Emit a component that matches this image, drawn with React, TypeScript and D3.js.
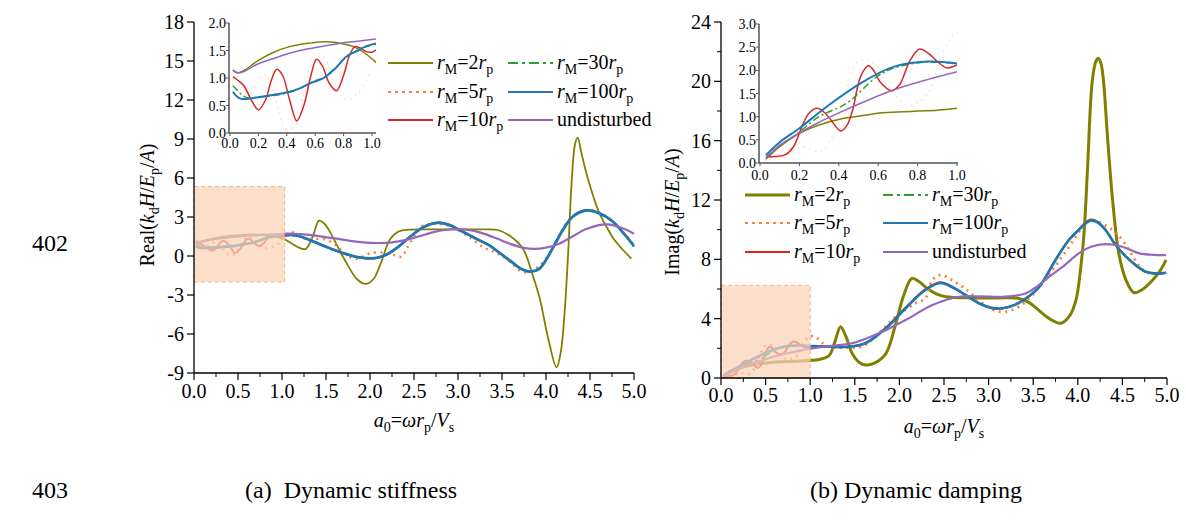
import React from 'react';
import * as d3 from 'd3';

type P = [number, number];
const FONT = '"Liberation Serif", "Times New Roman", serif';

// ---------- (a) Real part : dynamic stiffness ----------
const realR2: P[] = [[0.02,1.14],[0.05,1.09],[0.1,1.14],[0.2,1.32],[0.3,1.46],[0.42,1.57],[0.55,1.63],[0.68,1.66],[0.8,1.62],[0.87,1.57],[0.95,1.45],[1.03,1.28],[1.1,1.0],[1.2,0.62],[1.27,0.55],[1.35,1.5],[1.42,2.72],[1.48,2.5],[1.55,1.8],[1.65,0.5],[1.73,-0.5],[1.85,-1.77],[1.95,-2.15],[2.04,-1.77],[2.12,-0.6],[2.23,1.3],[2.33,1.9],[2.45,2.03],[2.7,2.05],[3.0,2.05],[3.3,2.05],[3.45,2.0],[3.6,1.5],[3.74,0.54],[3.85,-1.5],[3.93,-3.3],[4.03,-6.5],[4.12,-8.57],[4.17,-7.3],[4.21,-4.5],[4.25,0],[4.29,5.5],[4.33,8.6],[4.36,9.1],[4.4,8.0],[4.45,6.6],[4.5,5.4],[4.6,3.4],[4.7,2.1],[4.77,1.3],[4.87,0.5],[4.97,-0.2]];
const realR5: P[] = [[0.02,0.9],[0.08,0.6],[0.15,0.75],[0.24,1.07],[0.3,0.8],[0.39,0.08],[0.45,0.1],[0.52,0.7],[0.6,1.45],[0.67,1.35],[0.75,0.8],[0.82,0.6],[0.9,0.72],[0.98,1.07],[1.09,1.85],[1.16,1.7],[1.23,1.4],[1.35,1.3],[1.47,1.3],[1.55,1.1],[1.62,0.8],[1.7,0.3],[1.79,-0.15],[1.86,-0.22],[1.93,0.0],[2.0,0.2],[2.1,0.28],[2.2,0.2],[2.27,0.08],[2.36,-0.05],[2.42,0.6],[2.5,1.5],[2.57,2.25],[2.68,2.45],[2.78,2.48],[2.9,2.3],[3.0,2.0],[3.15,1.35],[3.29,0.65],[3.4,0.35],[3.5,0.0],[3.6,-0.5],[3.74,-1.24],[3.86,-1.05],[3.95,-0.6],[4.05,0.3],[4.15,1.6],[4.3,3.05],[4.47,3.55],[4.6,3.35],[4.75,2.7],[4.9,1.65],[5.0,0.8]];
const realR10: P[] = [[0.02,1.02],[0.06,0.95],[0.1,0.85],[0.15,0.6],[0.2,0.42],[0.25,0.6],[0.29,0.95],[0.33,1.16],[0.37,1.05],[0.42,0.6],[0.47,0.22],[0.52,0.5],[0.57,1.05],[0.61,1.34],[0.65,1.22],[0.7,0.9],[0.75,0.77],[0.8,1.05],[0.84,1.4],[0.88,1.57],[0.92,1.54],[0.96,1.48],[1.0,1.47],[1.05,1.55],[1.1,1.6],[1.2,1.5],[1.32,1.2],[1.47,0.78],[1.62,0.38],[1.78,0.03],[1.9,-0.15],[2.0,-0.2],[2.1,-0.12],[2.2,0.13],[2.3,0.58],[2.45,1.43],[2.6,2.2],[2.76,2.57],[2.9,2.42],[3.0,2.07],[3.2,1.37],[3.36,0.8],[3.5,0.1],[3.6,-0.42],[3.72,-1.02],[3.82,-1.22],[3.92,-1.0],[4.0,-0.3],[4.1,0.9],[4.2,2.1],[4.3,3.02],[4.45,3.52],[4.6,3.32],[4.75,2.7],[4.9,1.6],[5.0,0.75]];
const realR30: P[] = [[0.02,0.86],[0.05,0.78],[0.08,0.7],[0.12,0.64],[0.2,0.65],[0.3,0.68],[0.42,0.74],[0.5,0.82],[0.58,0.93],[0.66,1.01],[0.74,1.18],[0.82,1.38],[0.9,1.5],[0.96,1.57],[1.03,1.62],[1.1,1.61],[1.2,1.51],[1.32,1.21],[1.47,0.79],[1.62,0.39],[1.78,0.04],[1.9,-0.14],[2.0,-0.19],[2.1,-0.11],[2.2,0.14],[2.3,0.59],[2.45,1.44],[2.6,2.2],[2.76,2.56],[2.9,2.41],[3.0,2.06],[3.2,1.36],[3.36,0.8],[3.5,0.1],[3.6,-0.41],[3.72,-1.01],[3.82,-1.21],[3.92,-1.0],[4.0,-0.3],[4.1,0.9],[4.2,2.1],[4.3,3.01],[4.45,3.51],[4.6,3.31],[4.75,2.7],[4.9,1.6],[5.0,0.75]];
const realR100: P[] = [[0.02,0.75],[0.05,0.66],[0.08,0.62],[0.12,0.62],[0.2,0.65],[0.3,0.69],[0.42,0.75],[0.5,0.82],[0.58,0.92],[0.66,1.0],[0.74,1.17],[0.82,1.39],[0.9,1.5],[0.96,1.58],[1.03,1.63],[1.1,1.62],[1.2,1.52],[1.32,1.22],[1.47,0.8],[1.62,0.4],[1.78,0.05],[1.9,-0.13],[2.0,-0.18],[2.1,-0.1],[2.2,0.15],[2.3,0.6],[2.45,1.45],[2.6,2.2],[2.76,2.55],[2.9,2.4],[3.0,2.05],[3.2,1.35],[3.36,0.8],[3.5,0.1],[3.6,-0.4],[3.72,-1.0],[3.82,-1.2],[3.92,-1.0],[4.0,-0.3],[4.1,0.9],[4.2,2.1],[4.3,3.0],[4.45,3.5],[4.6,3.3],[4.75,2.7],[4.9,1.6],[5.0,0.75]];
const realUnd: P[] = [[0.02,1.15],[0.05,1.1],[0.08,1.1],[0.2,1.26],[0.3,1.35],[0.42,1.45],[0.55,1.53],[0.68,1.59],[0.8,1.64],[0.9,1.67],[1.03,1.71],[1.15,1.71],[1.25,1.67],[1.4,1.55],[1.6,1.35],[1.8,1.15],[1.95,1.03],[2.1,1.0],[2.25,1.05],[2.4,1.22],[2.55,1.5],[2.7,1.8],[2.85,2.0],[3.0,2.07],[3.15,1.97],[3.3,1.7],[3.45,1.32],[3.6,0.92],[3.75,0.62],[3.87,0.55],[4.0,0.65],[4.15,0.95],[4.3,1.5],[4.45,2.05],[4.6,2.38],[4.7,2.43],[4.8,2.3],[4.9,2.05],[5.0,1.7]];

// ---------- (b) Imag part : dynamic damping ----------
const imagR2: P[] = [[0.03,0.08],[0.1,0.35],[0.2,0.64],[0.3,0.82],[0.42,0.96],[0.5,1.01],[0.59,1.07],[0.7,1.1],[0.8,1.12],[0.9,1.14],[1.0,1.18],[1.1,1.25],[1.21,1.5],[1.28,2.5],[1.34,3.46],[1.4,2.8],[1.47,1.66],[1.55,1.05],[1.62,0.88],[1.72,1.0],[1.85,1.66],[1.96,3.69],[2.05,5.6],[2.14,6.72],[2.22,6.5],[2.31,6.05],[2.42,5.65],[2.52,5.48],[2.82,5.4],[3.1,5.4],[3.34,5.37],[3.45,5.1],[3.56,4.58],[3.68,4.0],[3.81,3.69],[3.91,4.2],[3.98,5.26],[4.03,7.3],[4.07,9.76],[4.11,14.25],[4.16,19.9],[4.2,21.3],[4.23,21.55],[4.26,21.2],[4.29,19.9],[4.33,16.5],[4.39,12.0],[4.46,8.4],[4.54,6.6],[4.63,5.75],[4.72,5.95],[4.84,6.61],[4.92,7.2],[4.99,7.96]];
const imagR5: P[] = [[0.02,0.05],[0.12,0.15],[0.22,0.35],[0.3,0.25],[0.35,0.43],[0.42,1.3],[0.5,2.2],[0.58,2.15],[0.66,1.6],[0.74,1.25],[0.8,1.3],[0.86,1.55],[0.92,2.3],[0.99,2.79],[1.05,2.8],[1.15,2.3],[1.21,2.1],[1.4,2.05],[1.58,2.11],[1.73,2.79],[1.96,4.13],[2.18,5.04],[2.29,5.37],[2.37,6.6],[2.46,6.95],[2.59,6.6],[2.74,6.0],[2.93,5.04],[3.12,4.47],[3.34,4.8],[3.6,6.38],[3.85,8.4],[4.09,10.43],[4.16,10.65],[4.39,9.98],[4.5,9.3],[4.76,7.17],[5.0,7.1]];
const imagR10: P[] = [[0.03,0.14],[0.08,0.14],[0.13,0.18],[0.17,0.35],[0.22,0.86],[0.25,1.08],[0.29,1.18],[0.33,1.08],[0.36,0.93],[0.41,0.69],[0.44,0.8],[0.47,1.14],[0.51,1.86],[0.55,2.1],[0.58,1.98],[0.61,1.75],[0.67,1.56],[0.71,1.7],[0.76,2.2],[0.81,2.46],[0.86,2.35],[0.9,2.19],[0.95,2.05],[1.0,2.12],[1.1,2.15],[1.2,2.1],[1.43,2.1],[1.62,2.36],[1.85,3.4],[2.07,4.75],[2.29,5.97],[2.46,6.45],[2.6,6.12],[2.74,5.6],[2.9,5.0],[3.02,4.72],[3.15,4.68],[3.3,4.95],[3.45,5.5],[3.57,6.16],[3.75,7.96],[3.9,9.32],[4.01,10.02],[4.14,10.68],[4.22,10.55],[4.31,10.0],[4.42,9.0],[4.54,8.18],[4.65,7.6],[4.76,7.15],[4.88,7.02],[4.99,7.08]];
const imagR30: P[] = [[0.03,0.12],[0.1,0.38],[0.17,0.57],[0.3,1.0],[0.44,1.29],[0.59,1.85],[0.68,2.05],[0.85,2.18],[1.0,2.14],[1.2,2.11],[1.43,2.1],[1.62,2.35],[1.85,3.37],[2.07,4.72],[2.29,5.95],[2.46,6.42],[2.6,6.1],[2.74,5.6],[2.9,5.01],[3.02,4.74],[3.15,4.69],[3.3,4.95],[3.45,5.5],[3.57,6.16],[3.75,7.96],[3.9,9.31],[4.01,10.0],[4.14,10.64],[4.22,10.52],[4.31,9.99],[4.42,9.0],[4.54,8.18],[4.65,7.6],[4.76,7.16],[4.88,7.04],[4.99,7.09]];
const imagR100: P[] = [[0.03,0.17],[0.1,0.45],[0.2,0.75],[0.34,1.22],[0.51,1.72],[0.68,2.08],[0.85,2.19],[1.0,2.15],[1.2,2.12],[1.43,2.11],[1.62,2.34],[1.85,3.35],[2.07,4.7],[2.29,5.93],[2.46,6.4],[2.6,6.1],[2.74,5.6],[2.9,5.02],[3.02,4.75],[3.15,4.7],[3.3,4.95],[3.45,5.5],[3.57,6.16],[3.75,7.96],[3.9,9.3],[4.01,9.98],[4.14,10.6],[4.22,10.5],[4.31,9.98],[4.42,9.0],[4.54,8.18],[4.65,7.6],[4.76,7.17],[4.88,7.05],[4.99,7.1]];
const imagUnd: P[] = [[0.03,0.1],[0.1,0.38],[0.2,0.65],[0.3,0.88],[0.42,1.12],[0.55,1.36],[0.68,1.58],[0.85,1.8],[1.0,1.97],[1.2,2.15],[1.47,2.34],[1.77,3.01],[2.07,3.91],[2.37,4.92],[2.67,5.48],[2.9,5.5],[3.19,5.48],[3.42,5.71],[3.55,6.2],[3.68,6.83],[3.85,7.6],[4.01,8.4],[4.15,8.85],[4.31,9.02],[4.5,8.85],[4.69,8.4],[4.85,8.3],[4.99,8.29]];

// ---------- ticks / labels ----------
const xTicks = [0, 0.5, 1, 1.5, 2, 2.5, 3, 3.5, 4, 4.5, 5];
const realYTicks = [-9, -6, -3, 0, 3, 6, 9, 12, 15, 18];
const imagYTicks = [0, 4, 8, 12, 16, 20, 24];
const realInsetY = [0, 0.5, 1, 1.5, 2];
const imagInsetY = [0, 0.5, 1, 1.5, 2, 2.5, 3];
const insetX = [0, 0.2, 0.4, 0.6, 0.8, 1];
const legendMult = ['2', '5', '10', '30', '100'];

const COL = { r2: '#808000', r5: '#f5813a', r10: '#d62728', r30: '#2ca02c', r100: '#1f77b4', und: '#9467bd' };
const DASH: Record<string, string | undefined> = { r2: undefined, r5: '2 4.5', r10: undefined, r30: '10 4 3 4', r100: undefined, und: undefined };

const keys = ['r2', 'r5', 'r10', 'r30', 'r100', 'und'] as const;
const realData: Record<string, P[]> = { r2: realR2, r5: realR5, r10: realR10, r30: realR30, r100: realR100, und: realUnd };
const imagData: Record<string, P[]> = { r2: imagR2, r5: imagR5, r10: imagR10, r30: imagR30, r100: imagR100, und: imagUnd };

const lineGen = (x: d3.ScaleLinear<number, number>, y: d3.ScaleLinear<number, number>) =>
  d3.line<P>().x(d => x(d[0])).y(d => y(d[1])).curve(d3.curveCatmullRom.alpha(0.5));

function rmLabel(n: string) {
  return [
    <tspan key="a" fontStyle="italic">r</tspan>,
    <tspan key="b" fontSize={14} dy={5}>M</tspan>,
    <tspan key="c" dy={-5}>={n}</tspan>,
    <tspan key="d" fontStyle="italic">r</tspan>,
    <tspan key="e" fontSize={14} dy={5}>p</tspan>,
  ];
}

interface PanelProps {
  id: string;
  data: Record<string, P[]>;
  x: d3.ScaleLinear<number, number>;
  y: d3.ScaleLinear<number, number>;
  yTicks: number[];
  yMinor: number[];
  widths: Record<string, number>;
  tickBase: number;
  ix: d3.ScaleLinear<number, number>;
  iy: d3.ScaleLinear<number, number>;
  iyTicks: number[];
  iXEnd: number;
  iLabelBase: number;
  rect: [number, number, number, number];
  legend: { x1: number; x2: number; rows: number[] };
  yLabel: string;
  yLabelX: number;
  yLabelY: number;
  xLabelBase: number;
}

function Panel(p: PanelProps) {
  const { x, y, ix, iy } = p;
  const [x0, x1] = x.range();
  const [yb, yt] = y.range();
  const lg = lineGen(x, y);
  const ilg = lineGen(ix, iy);
  const ixr = ix.range();
  const iyr = iy.range();
  const minorX = d3.range(0.25, 5, 0.5);
  return (
    <g fontFamily={FONT} fill="#000">
      <defs>
        <clipPath id={p.id + 'main'}>
          <rect x={x0} y={yt - 5} width={x1 - x0 + 2} height={yb - yt + 5} />
        </clipPath>
        <clipPath id={p.id + 'ins'}>
          <rect x={ixr[0]} y={iyr[1]} width={p.iXEnd - ixr[0]} height={iyr[0] - iyr[1]} />
        </clipPath>
      </defs>
      {/* main curves */}
      <g clipPath={`url(#${p.id}main)`} fill="none">
        {keys.map(k => (
          <path key={k} d={lg(p.data[k]) || ''} stroke={COL[k]} strokeWidth={p.widths[k]}
            strokeDasharray={DASH[k]} strokeLinejoin="round" />
        ))}
      </g>
      {/* highlighted zoom region */}
      <rect x={x(p.rect[0])} y={y(p.rect[3])} width={x(p.rect[1]) - x(p.rect[0])} height={y(p.rect[2]) - y(p.rect[3])}
        fill="#fbd3b5" fillOpacity={0.72} stroke="#f2b48e" strokeWidth={1} strokeDasharray="4 3" />
      {/* main axes */}
      <line x1={x0} x2={x0} y1={yt} y2={yb} stroke="#000" strokeWidth={1.3} />
      <line x1={x0} x2={x1} y1={yb} y2={yb} stroke="#000" strokeWidth={1.3} />
      {xTicks.map(t => (
        <g key={'x' + t}>
          <line x1={x(t)} x2={x(t)} y1={yb} y2={yb + 7} stroke="#000" strokeWidth={1.2} />
          <text x={x(t)} y={p.tickBase} fontSize={20} textAnchor="middle">{d3.format('.1f')(t)}</text>
        </g>
      ))}
      {minorX.map(t => (
        <line key={'mx' + t} x1={x(t)} x2={x(t)} y1={yb} y2={yb + 4} stroke="#000" strokeWidth={1} />
      ))}
      {p.yTicks.map(t => (
        <g key={'y' + t}>
          <line x1={x0 - 7} x2={x0} y1={y(t)} y2={y(t)} stroke="#000" strokeWidth={1.2} />
          <text x={x0 - 10} y={y(t) + 7} fontSize={20} textAnchor="end">{String(t)}</text>
        </g>
      ))}
      {p.yMinor.map(t => (
        <line key={'my' + t} x1={x0 - 4} x2={x0} y1={y(t)} y2={y(t)} stroke="#000" strokeWidth={1} />
      ))}
      {/* axis titles */}
      <text transform={`translate(${p.yLabelX},${p.yLabelY}) rotate(-90)`} fontSize={20} textAnchor="middle">
        <tspan>{p.yLabel}(</tspan>
        <tspan fontStyle="italic">k</tspan>
        <tspan fontSize={14} dy={5}>d</tspan>
        <tspan dy={-5} fontStyle="italic">H</tspan>
        <tspan>/</tspan>
        <tspan fontStyle="italic">E</tspan>
        <tspan fontSize={14} dy={5}>p</tspan>
        <tspan dy={-5}>/</tspan>
        <tspan fontStyle="italic">A</tspan>
        <tspan>)</tspan>
      </text>
      <text x={(x0 + x1) / 2} y={p.xLabelBase} fontSize={20} textAnchor="middle">
        <tspan fontStyle="italic">a</tspan>
        <tspan fontSize={14} dy={5}>0</tspan>
        <tspan dy={-5}>=</tspan>
        <tspan fontStyle="italic">ωr</tspan>
        <tspan fontSize={14} dy={5}>p</tspan>
        <tspan dy={-5}>/</tspan>
        <tspan fontStyle="italic">V</tspan>
        <tspan fontSize={14} dy={5}>s</tspan>
      </text>
      {/* inset */}
      <g clipPath={`url(#${p.id}ins)`} fill="none">
        {keys.map(k => (
          <path key={k} d={ilg(p.data[k].filter(d => d[0] <= 1.06)) || ''} stroke={COL[k]}
            strokeWidth={k === 'r100' ? 2 : 1.5} strokeOpacity={k === 'r5' ? 0.22 : 1}
            strokeDasharray={k === 'r30' ? '7 3 2 3' : k === 'r5' ? '2 4' : undefined} />
        ))}
      </g>
      <line x1={ixr[0] - 1} x2={ixr[0] - 1} y1={iyr[1]} y2={iyr[0]} stroke="#555" strokeWidth={1.5} />
      <line x1={ixr[0] - 1} x2={p.iXEnd} y1={iyr[0]} y2={iyr[0]} stroke="#555" strokeWidth={1.5} />
      {p.iyTicks.map(t => (
        <g key={'iy' + t}>
          <line x1={ixr[0] - 4} x2={ixr[0] - 1} y1={iy(t)} y2={iy(t)} stroke="#555" strokeWidth={1} />
          <text x={ixr[0] - 4} y={iy(t) + 5} fontSize={14} textAnchor="end">{d3.format('.1f')(t)}</text>
        </g>
      ))}
      {insetX.map(t => (
        <g key={'ix' + t}>
          <line x1={ix(t)} x2={ix(t)} y1={iyr[0]} y2={iyr[0] + 3} stroke="#555" strokeWidth={1} />
          <text x={ix(t)} y={p.iLabelBase} fontSize={14} textAnchor="middle">{d3.format('.1f')(t)}</text>
        </g>
      ))}
      {/* legend */}
      {keys.map((k, i) => {
        const col = i < 3 ? 0 : 1;
        const row = i % 3;
        const lx = col === 0 ? p.legend.x1 : p.legend.x2;
        const ly = p.legend.rows[row];
        return (
          <g key={'lg' + k}>
            <line x1={lx} x2={lx + 45} y1={ly} y2={ly} stroke={COL[k]} strokeWidth={k === 'r2' ? p.widths.r2 : 2.2}
              strokeDasharray={k === 'r5' ? '3 4' : DASH[k]} />
            <text x={lx + 49} y={ly + 6} fontSize={20}>
              {k === 'und' ? 'undisturbed' : rmLabel(legendMult[i])}
            </text>
          </g>
        );
      })}
    </g>
  );
}

export default function App() {
  const rx = d3.scaleLinear().domain([0, 5]).range([194, 634]);
  const ry = d3.scaleLinear().domain([-9, 18]).range([373, 22]);
  const rix = d3.scaleLinear().domain([0, 1]).range([230, 372]);
  const riy = d3.scaleLinear().domain([0, 2]).range([133, 23]);

  const bx = d3.scaleLinear().domain([0, 5]).range([721, 1167]);
  const by = d3.scaleLinear().domain([0, 24]).range([378, 22]);
  const bix = d3.scaleLinear().domain([0, 1]).range([760, 957]);
  const biy = d3.scaleLinear().domain([0, 3]).range([163, 24]);

  return (
    <svg width={1186} height={520} style={{ position: 'absolute', left: 0, top: 0, background: '#fff' }}>
      <rect x={0} y={0} width={1186} height={520} fill="#fff" />
      <Panel id="a" data={realData} x={rx} y={ry} yTicks={realYTicks} yMinor={[]}
        widths={{ r2: 1.8, r5: 2.5, r10: 1.8, r30: 2, r100: 2.8, und: 2.2 }}
        tickBase={398} ix={rix} iy={riy} iyTicks={realInsetY} iXEnd={376} iLabelBase={148}
        rect={[0, 1.03, -2.0, 5.35]} legend={{ x1: 388, x2: 508, rows: [63, 92, 120] }}
        yLabel="Real" yLabelX={154} yLabelY={205} xLabelBase={427} />
      <Panel id="b" data={imagData} x={bx} y={by} yTicks={imagYTicks} yMinor={d3.range(2, 24, 4)}
        widths={{ r2: 3, r5: 2.8, r10: 2, r30: 2, r100: 2.6, und: 2.2 }}
        tickBase={402} ix={bix} iy={biy} iyTicks={imagInsetY} iXEnd={958} iLabelBase={180}
        rect={[0, 1.0, 0, 6.25]} legend={{ x1: 745, x2: 883, rows: [195, 223, 252] }}
        yLabel="Imag" yLabelX={679} yLabelY={212} xLabelBase={433} />
      <g fontFamily={FONT} fontSize={24} fill="#000">
        <text x={32} y={251}>402</text>
        <text x={32} y={498}>403</text>
        <text x={245} y={498} xmlSpace="preserve">(a)  Dynamic stiffness</text>
        <text x={810} y={498}>(b) Dynamic damping</text>
      </g>
    </svg>
  );
}
